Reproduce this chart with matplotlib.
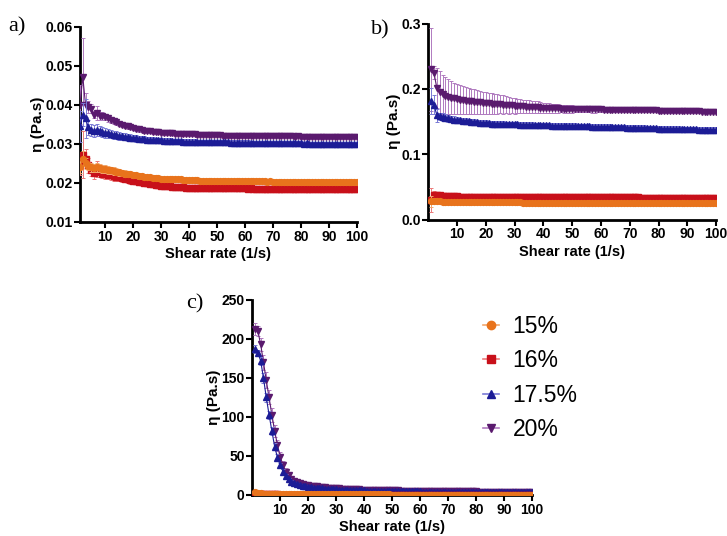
import numpy as np
import matplotlib
matplotlib.use("Agg")
from matplotlib import pyplot as plt
from matplotlib.lines import Line2D

plt.rcParams["font.family"] = ["Liberation Sans", "DejaVu Sans"]

# shear rate points (1/s)
shear = list(range(1, 101))

labels = ["15%", "16%", "17.5%", "20%"]
line_colors = ["#e8731c", "#c8101a", "#1c1c96", "#5a1a6e"]
err_colors = ["#f2a86e", "#ec7a7a", "#7a7ad6", "#b07ac0"]
markers = ["o", "s", "^", "v"]

# ---------------- panel a ----------------
a_15 = [0.0240, 0.0262, 0.0250, 0.0243, 0.0240, 0.0238, 0.0240, 0.0238, 0.0236, 0.0235,
        0.0233, 0.0232, 0.0230, 0.0229, 0.0227, 0.0226, 0.0224, 0.0223, 0.0222, 0.0220,
        0.0219, 0.0218, 0.0217, 0.0216, 0.0215, 0.0214, 0.0213, 0.0213, 0.0212, 0.0211,
        0.0211, 0.0210, 0.0210, 0.0210, 0.0209, 0.0209, 0.0209, 0.0208, 0.0208, 0.0208,
        0.0207, 0.0207, 0.0207, 0.0206, 0.0206, 0.0206, 0.0206, 0.0206, 0.0205, 0.0205,
        0.0205, 0.0205, 0.0205, 0.0205, 0.0205, 0.0204, 0.0204, 0.0204, 0.0204, 0.0204,
        0.0204, 0.0204, 0.0204, 0.0204, 0.0204, 0.0204, 0.0204, 0.0203, 0.0204, 0.0203,
        0.0203, 0.0203, 0.0203, 0.0203, 0.0203, 0.0203, 0.0203, 0.0203, 0.0203, 0.0203,
        0.0203, 0.0203, 0.0203, 0.0203, 0.0203, 0.0203, 0.0203, 0.0203, 0.0203, 0.0203,
        0.0203, 0.0203, 0.0202, 0.0203, 0.0202, 0.0202, 0.0202, 0.0202, 0.0202, 0.0202]
a_16 = [0.0250, 0.0272, 0.0262, 0.0245, 0.0232, 0.0226, 0.0236, 0.0228, 0.0224, 0.0222,
        0.0221, 0.0219, 0.0217, 0.0215, 0.0214, 0.0213, 0.0211, 0.0209, 0.0207, 0.0206,
        0.0204, 0.0203, 0.0201, 0.0200, 0.0199, 0.0197, 0.0196, 0.0195, 0.0194, 0.0193,
        0.0192, 0.0191, 0.0191, 0.0190, 0.0190, 0.0189, 0.0189, 0.0189, 0.0188, 0.0188,
        0.0188, 0.0188, 0.0187, 0.0187, 0.0187, 0.0187, 0.0187, 0.0186, 0.0187, 0.0186,
        0.0186, 0.0186, 0.0186, 0.0186, 0.0186, 0.0186, 0.0186, 0.0186, 0.0186, 0.0186,
        0.0185, 0.0186, 0.0185, 0.0185, 0.0185, 0.0185, 0.0185, 0.0185, 0.0185, 0.0185,
        0.0185, 0.0185, 0.0185, 0.0185, 0.0185, 0.0185, 0.0185, 0.0185, 0.0185, 0.0185,
        0.0185, 0.0185, 0.0184, 0.0185, 0.0184, 0.0184, 0.0184, 0.0184, 0.0184, 0.0184,
        0.0184, 0.0184, 0.0184, 0.0184, 0.0184, 0.0184, 0.0184, 0.0184, 0.0184, 0.0184]
a_17 = [0.0345, 0.0375, 0.0365, 0.0342, 0.0335, 0.0333, 0.0335, 0.0332, 0.0330, 0.0328,
        0.0327, 0.0325, 0.0323, 0.0322, 0.0320, 0.0319, 0.0318, 0.0317, 0.0316, 0.0315,
        0.0314, 0.0313, 0.0312, 0.0312, 0.0311, 0.0311, 0.0310, 0.0310, 0.0309, 0.0309,
        0.0308, 0.0308, 0.0308, 0.0307, 0.0307, 0.0307, 0.0307, 0.0306, 0.0306, 0.0306,
        0.0306, 0.0306, 0.0305, 0.0305, 0.0305, 0.0305, 0.0305, 0.0305, 0.0304, 0.0304,
        0.0304, 0.0304, 0.0304, 0.0304, 0.0303, 0.0303, 0.0303, 0.0303, 0.0303, 0.0303,
        0.0303, 0.0302, 0.0302, 0.0302, 0.0302, 0.0302, 0.0302, 0.0302, 0.0302, 0.0302,
        0.0301, 0.0301, 0.0301, 0.0301, 0.0301, 0.0301, 0.0301, 0.0301, 0.0301, 0.0301,
        0.0300, 0.0301, 0.0300, 0.0300, 0.0300, 0.0300, 0.0300, 0.0300, 0.0300, 0.0300,
        0.0300, 0.0300, 0.0300, 0.0299, 0.0300, 0.0299, 0.0299, 0.0299, 0.0299, 0.0299]
a_20 = [0.0400, 0.0472, 0.0400, 0.0395, 0.0390, 0.0375, 0.0378, 0.0372, 0.0372, 0.0368,
        0.0365, 0.0362, 0.0358, 0.0355, 0.0352, 0.0349, 0.0347, 0.0345, 0.0343, 0.0341,
        0.0339, 0.0337, 0.0335, 0.0334, 0.0333, 0.0332, 0.0331, 0.0330, 0.0330, 0.0329,
        0.0328, 0.0328, 0.0327, 0.0327, 0.0326, 0.0326, 0.0325, 0.0325, 0.0325, 0.0324,
        0.0324, 0.0324, 0.0323, 0.0323, 0.0323, 0.0323, 0.0322, 0.0322, 0.0322, 0.0322,
        0.0322, 0.0321, 0.0321, 0.0321, 0.0321, 0.0321, 0.0321, 0.0320, 0.0320, 0.0320,
        0.0320, 0.0320, 0.0320, 0.0320, 0.0320, 0.0319, 0.0320, 0.0319, 0.0319, 0.0319,
        0.0319, 0.0319, 0.0319, 0.0319, 0.0319, 0.0319, 0.0319, 0.0318, 0.0319, 0.0318,
        0.0318, 0.0318, 0.0318, 0.0318, 0.0318, 0.0318, 0.0318, 0.0318, 0.0318, 0.0318,
        0.0318, 0.0318, 0.0318, 0.0317, 0.0318, 0.0317, 0.0317, 0.0317, 0.0317, 0.0317]

a_15_err = [0.0015, 0.0020, 0.0015, 0.0010, 0.0012, 0.0010, 0.0012, 0.0010, 0.0010, 0.0010,
            0.0010, 0.0009, 0.0010, 0.0009, 0.0009, 0.0008, 0.0008, 0.0008, 0.0008, 0.0007,
            0.0007, 0.0007, 0.0007, 0.0006, 0.0006, 0.0006, 0.0006, 0.0006, 0.0006, 0.0005,
            0.0005, 0.0005, 0.0005, 0.0005, 0.0005, 0.0005, 0.0005, 0.0005, 0.0005, 0.0005,
            0.0005, 0.0005, 0.0005, 0.0005, 0.0005, 0.0005, 0.0005, 0.0005, 0.0005, 0.0005,
            0.0005, 0.0005, 0.0005, 0.0005, 0.0005, 0.0005, 0.0005, 0.0005, 0.0005, 0.0005,
            0.0005, 0.0005, 0.0005, 0.0005, 0.0005, 0.0005, 0.0005, 0.0005, 0.0005, 0.0005,
            0.0005, 0.0005, 0.0005, 0.0005, 0.0005, 0.0005, 0.0005, 0.0005, 0.0005, 0.0005,
            0.0005, 0.0005, 0.0005, 0.0005, 0.0005, 0.0005, 0.0005, 0.0005, 0.0005, 0.0005,
            0.0005, 0.0005, 0.0005, 0.0005, 0.0005, 0.0005, 0.0005, 0.0005, 0.0005, 0.0005]
a_16_err = [0.0030, 0.0060, 0.0025, 0.0020, 0.0015, 0.0015, 0.0020, 0.0012, 0.0012, 0.0012,
            0.0012, 0.0011, 0.0011, 0.0010, 0.0010, 0.0010, 0.0009, 0.0009, 0.0009, 0.0008,
            0.0008, 0.0008, 0.0007, 0.0007, 0.0007, 0.0007, 0.0006, 0.0006, 0.0006, 0.0006,
            0.0006, 0.0006, 0.0005, 0.0005, 0.0005, 0.0005, 0.0005, 0.0005, 0.0005, 0.0005,
            0.0005, 0.0005, 0.0005, 0.0005, 0.0005, 0.0005, 0.0005, 0.0005, 0.0005, 0.0005,
            0.0005, 0.0005, 0.0005, 0.0005, 0.0005, 0.0005, 0.0005, 0.0005, 0.0005, 0.0005,
            0.0005, 0.0005, 0.0005, 0.0005, 0.0005, 0.0005, 0.0005, 0.0005, 0.0005, 0.0005,
            0.0005, 0.0005, 0.0005, 0.0005, 0.0005, 0.0005, 0.0005, 0.0005, 0.0005, 0.0005,
            0.0005, 0.0005, 0.0005, 0.0005, 0.0005, 0.0005, 0.0005, 0.0005, 0.0005, 0.0005,
            0.0005, 0.0005, 0.0005, 0.0005, 0.0005, 0.0005, 0.0005, 0.0005, 0.0005, 0.0005]
a_17_err = [0.0040, 0.0030, 0.0050, 0.0020, 0.0015, 0.0015, 0.0015, 0.0013, 0.0012, 0.0012,
            0.0011, 0.0011, 0.0010, 0.0010, 0.0010, 0.0009, 0.0009, 0.0009, 0.0008, 0.0008,
            0.0008, 0.0008, 0.0007, 0.0007, 0.0007, 0.0007, 0.0007, 0.0006, 0.0006, 0.0006,
            0.0006, 0.0006, 0.0006, 0.0006, 0.0006, 0.0006, 0.0006, 0.0006, 0.0006, 0.0006,
            0.0006, 0.0006, 0.0006, 0.0006, 0.0006, 0.0006, 0.0006, 0.0006, 0.0006, 0.0006,
            0.0006, 0.0006, 0.0006, 0.0006, 0.0006, 0.0006, 0.0006, 0.0006, 0.0006, 0.0006,
            0.0006, 0.0006, 0.0006, 0.0006, 0.0006, 0.0006, 0.0006, 0.0006, 0.0006, 0.0006,
            0.0006, 0.0006, 0.0006, 0.0006, 0.0006, 0.0006, 0.0006, 0.0006, 0.0006, 0.0006,
            0.0006, 0.0006, 0.0006, 0.0006, 0.0006, 0.0006, 0.0006, 0.0006, 0.0006, 0.0006,
            0.0006, 0.0006, 0.0006, 0.0006, 0.0006, 0.0006, 0.0006, 0.0006, 0.0006, 0.0006]
a_20_err = [0.0050, 0.0100, 0.0030, 0.0015, 0.0012, 0.0010, 0.0018, 0.0010, 0.0010, 0.0008,
            0.0008, 0.0008, 0.0008, 0.0007, 0.0007, 0.0007, 0.0007, 0.0006, 0.0006, 0.0006,
            0.0006, 0.0006, 0.0005, 0.0005, 0.0005, 0.0005, 0.0005, 0.0005, 0.0005, 0.0005,
            0.0005, 0.0005, 0.0005, 0.0005, 0.0005, 0.0005, 0.0005, 0.0005, 0.0005, 0.0005,
            0.0005, 0.0005, 0.0005, 0.0005, 0.0005, 0.0005, 0.0005, 0.0005, 0.0005, 0.0005,
            0.0005, 0.0005, 0.0005, 0.0005, 0.0005, 0.0005, 0.0005, 0.0005, 0.0005, 0.0005,
            0.0005, 0.0005, 0.0005, 0.0005, 0.0005, 0.0005, 0.0005, 0.0005, 0.0005, 0.0005,
            0.0005, 0.0005, 0.0005, 0.0005, 0.0005, 0.0005, 0.0005, 0.0005, 0.0005, 0.0005,
            0.0005, 0.0005, 0.0005, 0.0005, 0.0005, 0.0005, 0.0005, 0.0005, 0.0005, 0.0005,
            0.0005, 0.0005, 0.0005, 0.0005, 0.0005, 0.0005, 0.0005, 0.0005, 0.0005, 0.0005]

# ---------------- panel b ----------------
b_15 = [0.0280, 0.0290, 0.0282, 0.0280, 0.0278, 0.0277, 0.0276, 0.0275, 0.0274, 0.0273,
        0.0272, 0.0272, 0.0271, 0.0271, 0.0270, 0.0270, 0.0269, 0.0269, 0.0268, 0.0268,
        0.0267, 0.0267, 0.0267, 0.0266, 0.0266, 0.0266, 0.0265, 0.0265, 0.0265, 0.0264,
        0.0264, 0.0264, 0.0263, 0.0263, 0.0263, 0.0263, 0.0262, 0.0262, 0.0262, 0.0262,
        0.0261, 0.0261, 0.0261, 0.0261, 0.0260, 0.0260, 0.0260, 0.0260, 0.0259, 0.0259,
        0.0259, 0.0259, 0.0259, 0.0258, 0.0258, 0.0258, 0.0258, 0.0258, 0.0257, 0.0257,
        0.0257, 0.0257, 0.0257, 0.0256, 0.0256, 0.0256, 0.0256, 0.0256, 0.0255, 0.0255,
        0.0255, 0.0255, 0.0255, 0.0254, 0.0254, 0.0254, 0.0254, 0.0254, 0.0253, 0.0253,
        0.0253, 0.0253, 0.0253, 0.0252, 0.0252, 0.0252, 0.0252, 0.0252, 0.0251, 0.0251,
        0.0251, 0.0251, 0.0251, 0.0250, 0.0250, 0.0250, 0.0250, 0.0250, 0.0249, 0.0249]
b_16 = [0.0300, 0.0380, 0.0385, 0.0372, 0.0366, 0.0363, 0.0360, 0.0358, 0.0357, 0.0356,
        0.0355, 0.0355, 0.0354, 0.0354, 0.0353, 0.0353, 0.0353, 0.0352, 0.0352, 0.0352,
        0.0351, 0.0351, 0.0351, 0.0351, 0.0350, 0.0350, 0.0350, 0.0350, 0.0349, 0.0349,
        0.0349, 0.0349, 0.0349, 0.0348, 0.0348, 0.0348, 0.0348, 0.0348, 0.0347, 0.0347,
        0.0347, 0.0347, 0.0347, 0.0346, 0.0346, 0.0346, 0.0346, 0.0346, 0.0345, 0.0345,
        0.0345, 0.0345, 0.0345, 0.0344, 0.0344, 0.0344, 0.0344, 0.0344, 0.0343, 0.0343,
        0.0343, 0.0343, 0.0343, 0.0342, 0.0342, 0.0342, 0.0342, 0.0342, 0.0341, 0.0341,
        0.0341, 0.0341, 0.0341, 0.0340, 0.0340, 0.0340, 0.0340, 0.0340, 0.0339, 0.0339,
        0.0339, 0.0339, 0.0339, 0.0338, 0.0338, 0.0338, 0.0338, 0.0338, 0.0337, 0.0337,
        0.0337, 0.0337, 0.0336, 0.0336, 0.0336, 0.0335, 0.0335, 0.0335, 0.0334, 0.0334]
b_17 = [0.181, 0.176, 0.160, 0.158, 0.157, 0.156, 0.155, 0.154, 0.153, 0.1525,
        0.152, 0.1515, 0.151, 0.1505, 0.150, 0.1495, 0.149, 0.1485, 0.148, 0.1478,
        0.1475, 0.1472, 0.1470, 0.1468, 0.1466, 0.1464, 0.1462, 0.1460, 0.1459, 0.1458,
        0.1457, 0.1455, 0.1453, 0.1451, 0.1450, 0.1448, 0.1447, 0.1446, 0.1445, 0.1444,
        0.1443, 0.1442, 0.1441, 0.1440, 0.1439, 0.1438, 0.1437, 0.1436, 0.1436, 0.1435,
        0.1434, 0.1432, 0.1431, 0.1430, 0.1428, 0.1427, 0.1426, 0.1424, 0.1423, 0.1422,
        0.1420, 0.1419, 0.1418, 0.1416, 0.1415, 0.1414, 0.1412, 0.1411, 0.1410, 0.1408,
        0.1407, 0.1406, 0.1404, 0.1403, 0.1402, 0.1400, 0.1399, 0.1398, 0.1396, 0.1395,
        0.1394, 0.1392, 0.1391, 0.1390, 0.1389, 0.1388, 0.1387, 0.1386, 0.1385, 0.1384,
        0.1383, 0.1382, 0.1381, 0.1380, 0.1379, 0.1378, 0.1377, 0.1376, 0.1375, 0.1374]
b_20 = [0.230, 0.2245, 0.2015, 0.196, 0.192, 0.190, 0.188, 0.1865, 0.1855, 0.1846,
        0.1838, 0.1830, 0.1822, 0.1815, 0.1810, 0.1805, 0.1800, 0.1795, 0.1790, 0.1785,
        0.1781, 0.1777, 0.1773, 0.1769, 0.1765, 0.1761, 0.1757, 0.1753, 0.1748, 0.1743,
        0.1740, 0.1737, 0.1734, 0.1731, 0.1728, 0.1725, 0.1722, 0.1719, 0.1716, 0.1713,
        0.1711, 0.1709, 0.1707, 0.1705, 0.1703, 0.1701, 0.1700, 0.1699, 0.1698, 0.1697,
        0.1696, 0.1695, 0.1694, 0.1693, 0.1692, 0.1691, 0.1690, 0.1689, 0.1688, 0.1687,
        0.1686, 0.1685, 0.1684, 0.1683, 0.1682, 0.1682, 0.1681, 0.1681, 0.1680, 0.1680,
        0.1679, 0.1678, 0.1677, 0.1676, 0.1675, 0.1674, 0.1673, 0.1672, 0.1671, 0.1670,
        0.1669, 0.1668, 0.1667, 0.1666, 0.1665, 0.1664, 0.1663, 0.1662, 0.1661, 0.1660,
        0.1659, 0.1658, 0.1657, 0.1656, 0.1655, 0.1654, 0.1652, 0.1650, 0.1648, 0.1646]

b_15_err = [0.008, 0.004, 0.003, 0.002, 0.002, 0.002, 0.002, 0.002, 0.002, 0.002,
            0.002, 0.002, 0.002, 0.002, 0.002, 0.002, 0.002, 0.002, 0.002, 0.002,
            0.002, 0.002, 0.002, 0.002, 0.002, 0.002, 0.002, 0.002, 0.002, 0.002,
            0.002, 0.002, 0.002, 0.002, 0.002, 0.002, 0.002, 0.002, 0.002, 0.002,
            0.002, 0.002, 0.002, 0.002, 0.002, 0.002, 0.002, 0.002, 0.002, 0.002,
            0.002, 0.002, 0.002, 0.002, 0.002, 0.002, 0.002, 0.002, 0.002, 0.002,
            0.002, 0.002, 0.002, 0.002, 0.002, 0.002, 0.002, 0.002, 0.002, 0.002,
            0.002, 0.002, 0.002, 0.002, 0.002, 0.002, 0.002, 0.002, 0.002, 0.002,
            0.002, 0.002, 0.002, 0.002, 0.002, 0.002, 0.002, 0.002, 0.002, 0.002,
            0.002, 0.002, 0.002, 0.002, 0.002, 0.002, 0.002, 0.002, 0.002, 0.002]
b_16_err = [0.018, 0.006, 0.004, 0.003, 0.003, 0.003, 0.003, 0.003, 0.003, 0.003,
            0.003, 0.003, 0.003, 0.003, 0.003, 0.003, 0.003, 0.003, 0.003, 0.003,
            0.003, 0.003, 0.003, 0.003, 0.003, 0.003, 0.003, 0.003, 0.003, 0.003,
            0.003, 0.003, 0.003, 0.003, 0.003, 0.003, 0.003, 0.003, 0.003, 0.003,
            0.003, 0.003, 0.003, 0.003, 0.003, 0.003, 0.003, 0.003, 0.003, 0.003,
            0.003, 0.003, 0.003, 0.003, 0.003, 0.003, 0.003, 0.003, 0.003, 0.003,
            0.003, 0.003, 0.003, 0.003, 0.003, 0.003, 0.003, 0.003, 0.003, 0.003,
            0.003, 0.003, 0.003, 0.003, 0.003, 0.003, 0.003, 0.003, 0.003, 0.003,
            0.003, 0.003, 0.003, 0.003, 0.003, 0.003, 0.003, 0.003, 0.003, 0.003,
            0.003, 0.003, 0.003, 0.003, 0.003, 0.003, 0.003, 0.003, 0.003, 0.003]
b_17_err = [0.020, 0.015, 0.010, 0.006, 0.006, 0.005, 0.005, 0.005, 0.005, 0.005,
            0.004, 0.004, 0.004, 0.004, 0.004, 0.004, 0.004, 0.004, 0.004, 0.004,
            0.004, 0.004, 0.004, 0.004, 0.004, 0.004, 0.004, 0.004, 0.004, 0.004,
            0.004, 0.004, 0.004, 0.004, 0.004, 0.004, 0.004, 0.004, 0.004, 0.004,
            0.004, 0.004, 0.004, 0.004, 0.004, 0.004, 0.004, 0.004, 0.004, 0.004,
            0.004, 0.004, 0.004, 0.004, 0.004, 0.004, 0.004, 0.004, 0.004, 0.004,
            0.004, 0.004, 0.004, 0.004, 0.004, 0.004, 0.004, 0.004, 0.004, 0.004,
            0.004, 0.004, 0.004, 0.004, 0.004, 0.004, 0.004, 0.004, 0.004, 0.004,
            0.004, 0.004, 0.004, 0.004, 0.004, 0.004, 0.004, 0.004, 0.004, 0.004,
            0.004, 0.004, 0.004, 0.004, 0.004, 0.004, 0.004, 0.004, 0.004, 0.004]
b_20_err = [0.064, 0.010, 0.030, 0.032, 0.030, 0.028, 0.027, 0.025, 0.024, 0.023,
            0.022, 0.021, 0.021, 0.020, 0.019, 0.019, 0.018, 0.018, 0.017, 0.017,
            0.016, 0.016, 0.015, 0.015, 0.014, 0.014, 0.013, 0.013, 0.012, 0.012,
            0.011, 0.011, 0.010, 0.010, 0.010, 0.009, 0.009, 0.009, 0.008, 0.008,
            0.008, 0.007, 0.007, 0.007, 0.007, 0.006, 0.006, 0.006, 0.006, 0.006,
            0.005, 0.005, 0.005, 0.005, 0.005, 0.005, 0.005, 0.005, 0.004, 0.004,
            0.004, 0.004, 0.004, 0.004, 0.004, 0.004, 0.004, 0.004, 0.003, 0.003,
            0.003, 0.003, 0.003, 0.003, 0.003, 0.003, 0.003, 0.003, 0.003, 0.003,
            0.003, 0.003, 0.003, 0.003, 0.003, 0.003, 0.003, 0.003, 0.002, 0.002,
            0.002, 0.002, 0.002, 0.002, 0.002, 0.002, 0.002, 0.002, 0.002, 0.002]

# ---------------- panel c ----------------
c_15 = [3.5, 2.6, 2.1, 1.8, 1.6, 1.5, 1.4, 1.3, 1.25, 1.2,
        1.15, 1.1, 1.1, 1.05, 1.0, 1.0, 0.95, 0.95, 0.9, 0.9,
        0.9, 0.85, 0.85, 0.85, 0.8, 0.8, 0.8, 0.8, 0.75, 0.75,
        0.75, 0.75, 0.75, 0.7, 0.7, 0.7, 0.7, 0.7, 0.7, 0.7,
        0.65, 0.65, 0.65, 0.65, 0.65, 0.65, 0.65, 0.65, 0.65, 0.6,
        0.6, 0.6, 0.6, 0.6, 0.6, 0.6, 0.6, 0.6, 0.6, 0.6,
        0.6, 0.6, 0.6, 0.6, 0.6, 0.6, 0.6, 0.6, 0.6, 0.6,
        0.55, 0.55, 0.55, 0.55, 0.55, 0.55, 0.55, 0.55, 0.55, 0.55,
        0.55, 0.55, 0.55, 0.55, 0.55, 0.55, 0.55, 0.55, 0.55, 0.55,
        0.55, 0.55, 0.55, 0.55, 0.55, 0.55, 0.55, 0.55, 0.55, 0.55]
c_16 = [1.2, 1.0, 0.9, 0.8, 0.75, 0.7, 0.7, 0.65, 0.65, 0.6,
        0.6, 0.6, 0.55, 0.55, 0.55, 0.55, 0.5, 0.5, 0.5, 0.5,
        0.5, 0.5, 0.5, 0.5, 0.45, 0.45, 0.45, 0.45, 0.45, 0.45,
        0.45, 0.45, 0.45, 0.45, 0.45, 0.45, 0.45, 0.45, 0.45, 0.45,
        0.4, 0.4, 0.4, 0.4, 0.4, 0.4, 0.4, 0.4, 0.4, 0.4,
        0.4, 0.4, 0.4, 0.4, 0.4, 0.4, 0.4, 0.4, 0.4, 0.4,
        0.4, 0.4, 0.4, 0.4, 0.4, 0.4, 0.4, 0.4, 0.4, 0.4,
        0.4, 0.4, 0.4, 0.4, 0.4, 0.4, 0.4, 0.4, 0.4, 0.4,
        0.4, 0.4, 0.4, 0.4, 0.4, 0.4, 0.4, 0.4, 0.4, 0.4,
        0.4, 0.4, 0.4, 0.4, 0.4, 0.4, 0.4, 0.4, 0.4, 0.4]
c_17 = [187, 182, 172, 150, 125, 103, 82, 62, 48, 38,
        30, 24, 20, 17, 15.5, 14, 13, 12, 11.2, 10.5,
        10, 9.6, 9.2, 8.8, 8.5, 8.2, 7.9, 7.6, 7.4, 7.2,
        7.0, 6.8, 6.7, 6.5, 6.4, 6.2, 6.1, 6.0, 5.9, 5.8,
        5.7, 5.6, 5.5, 5.4, 5.35, 5.3, 5.2, 5.15, 5.1, 5.0,
        4.95, 4.9, 4.85, 4.8, 4.75, 4.7, 4.65, 4.6, 4.55, 4.5,
        4.45, 4.4, 4.4, 4.35, 4.3, 4.25, 4.2, 4.2, 4.15, 4.1,
        4.1, 4.05, 4.0, 4.0, 3.95, 3.9, 3.9, 3.85, 3.8, 3.8,
        3.75, 3.7, 3.7, 3.65, 3.6, 3.6, 3.55, 3.5, 3.5, 3.45,
        3.45, 3.4, 3.4, 3.35, 3.35, 3.3, 3.3, 3.25, 3.25, 3.2]
c_20 = [213, 210, 193, 170, 147, 125, 103, 82, 64, 49,
        38, 30, 25, 21, 18.5, 16.5, 15, 14, 13.2, 12.5,
        12, 11.5, 11, 10.6, 10.2, 9.8, 9.5, 9.2, 8.9, 8.6,
        8.4, 8.2, 8.0, 7.8, 7.6, 7.4, 7.3, 7.1, 7.0, 6.9,
        6.8, 6.7, 6.6, 6.5, 6.4, 6.3, 6.2, 6.1, 6.0, 5.9,
        5.85, 5.8, 5.7, 5.65, 5.6, 5.5, 5.45, 5.4, 5.35, 5.3,
        5.25, 5.2, 5.15, 5.1, 5.05, 5.0, 4.95, 4.9, 4.9, 4.85,
        4.8, 4.75, 4.7, 4.7, 4.65, 4.6, 4.6, 4.55, 4.5, 4.5,
        4.45, 4.4, 4.4, 4.35, 4.3, 4.3, 4.25, 4.2, 4.2, 4.15,
        4.1, 4.1, 4.05, 4.0, 4.0, 3.95, 3.9, 3.9, 3.85, 3.8]

c_15_err = [1.0, 0.6, 0.5, 0.4, 0.4, 0.3, 0.3, 0.3, 0.3, 0.3,
            0.3, 0.3, 0.3, 0.3, 0.3, 0.3, 0.3, 0.3, 0.3, 0.3,
            0.3, 0.3, 0.3, 0.3, 0.3, 0.3, 0.3, 0.3, 0.3, 0.3,
            0.3, 0.3, 0.3, 0.3, 0.3, 0.3, 0.3, 0.3, 0.3, 0.3,
            0.3, 0.3, 0.3, 0.3, 0.3, 0.3, 0.3, 0.3, 0.3, 0.3,
            0.3, 0.3, 0.3, 0.3, 0.3, 0.3, 0.3, 0.3, 0.3, 0.3,
            0.3, 0.3, 0.3, 0.3, 0.3, 0.3, 0.3, 0.3, 0.3, 0.3,
            0.3, 0.3, 0.3, 0.3, 0.3, 0.3, 0.3, 0.3, 0.3, 0.3,
            0.3, 0.3, 0.3, 0.3, 0.3, 0.3, 0.3, 0.3, 0.3, 0.3,
            0.3, 0.3, 0.3, 0.3, 0.3, 0.3, 0.3, 0.3, 0.3, 0.3]
c_16_err = [0.5, 0.3, 0.3, 0.2, 0.2, 0.2, 0.2, 0.2, 0.2, 0.2,
            0.2, 0.2, 0.2, 0.2, 0.2, 0.2, 0.2, 0.2, 0.2, 0.2,
            0.2, 0.2, 0.2, 0.2, 0.2, 0.2, 0.2, 0.2, 0.2, 0.2,
            0.2, 0.2, 0.2, 0.2, 0.2, 0.2, 0.2, 0.2, 0.2, 0.2,
            0.2, 0.2, 0.2, 0.2, 0.2, 0.2, 0.2, 0.2, 0.2, 0.2,
            0.2, 0.2, 0.2, 0.2, 0.2, 0.2, 0.2, 0.2, 0.2, 0.2,
            0.2, 0.2, 0.2, 0.2, 0.2, 0.2, 0.2, 0.2, 0.2, 0.2,
            0.2, 0.2, 0.2, 0.2, 0.2, 0.2, 0.2, 0.2, 0.2, 0.2,
            0.2, 0.2, 0.2, 0.2, 0.2, 0.2, 0.2, 0.2, 0.2, 0.2,
            0.2, 0.2, 0.2, 0.2, 0.2, 0.2, 0.2, 0.2, 0.2, 0.2]
c_17_err = [5, 4, 5, 6, 6, 5, 5, 4, 4, 3,
            3, 2.5, 2, 1.8, 1.5, 1.3, 1.2, 1.1, 1.0, 1.0,
            0.9, 0.9, 0.9, 0.8, 0.8, 0.8, 0.8, 0.7, 0.7, 0.7,
            0.7, 0.7, 0.6, 0.6, 0.6, 0.6, 0.6, 0.6, 0.6, 0.5,
            0.5, 0.5, 0.5, 0.5, 0.5, 0.5, 0.5, 0.5, 0.5, 0.5,
            0.5, 0.5, 0.5, 0.5, 0.5, 0.5, 0.5, 0.5, 0.5, 0.5,
            0.4, 0.4, 0.4, 0.4, 0.4, 0.4, 0.4, 0.4, 0.4, 0.4,
            0.4, 0.4, 0.4, 0.4, 0.4, 0.4, 0.4, 0.4, 0.4, 0.4,
            0.4, 0.4, 0.4, 0.4, 0.4, 0.4, 0.4, 0.4, 0.4, 0.4,
            0.4, 0.4, 0.4, 0.4, 0.4, 0.4, 0.4, 0.4, 0.4, 0.4]
c_20_err = [8, 6, 8, 10, 10, 9, 9, 8, 7, 6,
            5, 4, 3.5, 3, 2.5, 2, 2, 1.8, 1.6, 1.5,
            1.2, 1.2, 1.1, 1.1, 1.0, 1.0, 1.0, 0.9, 0.9, 0.9,
            0.9, 0.8, 0.8, 0.8, 0.8, 0.8, 0.7, 0.7, 0.7, 0.7,
            0.7, 0.7, 0.7, 0.6, 0.6, 0.6, 0.6, 0.6, 0.6, 0.6,
            0.6, 0.6, 0.6, 0.6, 0.6, 0.6, 0.5, 0.5, 0.5, 0.5,
            0.5, 0.5, 0.5, 0.5, 0.5, 0.5, 0.5, 0.5, 0.5, 0.5,
            0.5, 0.5, 0.5, 0.5, 0.5, 0.5, 0.5, 0.5, 0.5, 0.5,
            0.5, 0.5, 0.5, 0.5, 0.5, 0.5, 0.5, 0.5, 0.5, 0.5,
            0.5, 0.5, 0.5, 0.5, 0.5, 0.5, 0.5, 0.5, 0.5, 0.5]

a_ticks = [0.01, 0.02, 0.03, 0.04, 0.05, 0.06]
b_ticks = [0.0, 0.1, 0.2, 0.3]
c_ticks = [0, 50, 100, 150, 200, 250]
x_ticks = [10, 20, 30, 40, 50, 60, 70, 80, 90, 100]


def style_axis(ax):
    for side in ["top", "right"]:
        ax.spines[side].set_visible(False)
    for side in ["left", "bottom"]:
        ax.spines[side].set_linewidth(2.0)
    ax.tick_params(width=1.5, length=4, labelsize=10, pad=1.5)
    for lab in ax.get_xticklabels() + ax.get_yticklabels():
        lab.set_fontweight("bold")
    ax.set_xticks(x_ticks)
    ax.set_xlabel("Shear rate (1/s)", fontsize=10.5, fontweight="bold", labelpad=2.5)
    ax.set_ylabel("\u03b7 (Pa.s)", fontsize=11, fontweight="bold", labelpad=0)


def draw(ax, series, errs):
    # draw 20% first, 15% on top
    for i in [3, 2, 1, 0]:
        ax.errorbar(shear, series[i], yerr=errs[i], fmt="-", marker=markers[i],
                    color=line_colors[i], ecolor=err_colors[i], elinewidth=0.7,
                    capsize=1.5, capthick=0.7, markersize=4.2, lw=0.8,
                    zorder=3 + (3 - i))


fig = plt.figure(figsize=(7.27, 5.36), dpi=100)

ax_a = fig.add_axes([0.110, 0.586, 0.381, 0.364])
draw(ax_a, [a_15, a_16, a_17, a_20], [a_15_err, a_16_err, a_17_err, a_20_err])
ax_a.set_xlim(1, 100)
ax_a.set_ylim(0.01, 0.06)
ax_a.set_yticks(a_ticks)
ax_a.set_yticklabels(["%.2f" % t for t in a_ticks])
style_axis(ax_a)

ax_b = fig.add_axes([0.589, 0.590, 0.396, 0.366])
draw(ax_b, [b_15, b_16, b_17, b_20], [b_15_err, b_16_err, b_17_err, b_20_err])
ax_b.set_xlim(0, 100)
ax_b.set_ylim(0.0, 0.3)
ax_b.set_yticks(b_ticks)
ax_b.set_yticklabels(["%.1f" % t for t in b_ticks])
style_axis(ax_b)

ax_c = fig.add_axes([0.347, 0.0765, 0.385, 0.364])
draw(ax_c, [c_15, c_16, c_17, c_20], [c_15_err, c_16_err, c_17_err, c_20_err])
ax_c.set_xlim(0, 100)
ax_c.set_ylim(0, 250)
ax_c.set_yticks(c_ticks)
style_axis(ax_c)

# legend: light line through a dark marker
handles = [Line2D([], [], color=err_colors[i], lw=1.2, marker=markers[i],
                  markersize=6, markerfacecolor=line_colors[i],
                  markeredgecolor=line_colors[i]) for i in range(4)]
fig.legend(handles, labels, loc="upper left", bbox_to_anchor=(0.664, 0.413),
           frameon=False, fontsize=16.5, handlelength=0.7, handletextpad=0.6,
           labelspacing=0.50, borderpad=0, borderaxespad=0)

fig.text(0.012, 0.950, "a)", family="Liberation Serif", fontsize=16, va="center")
fig.text(0.510, 0.945, "b)", family="Liberation Serif", fontsize=16, va="center")
fig.text(0.256, 0.433, "c)", family="Liberation Serif", fontsize=16, va="center")

fig.savefig("out.png", dpi=100)
